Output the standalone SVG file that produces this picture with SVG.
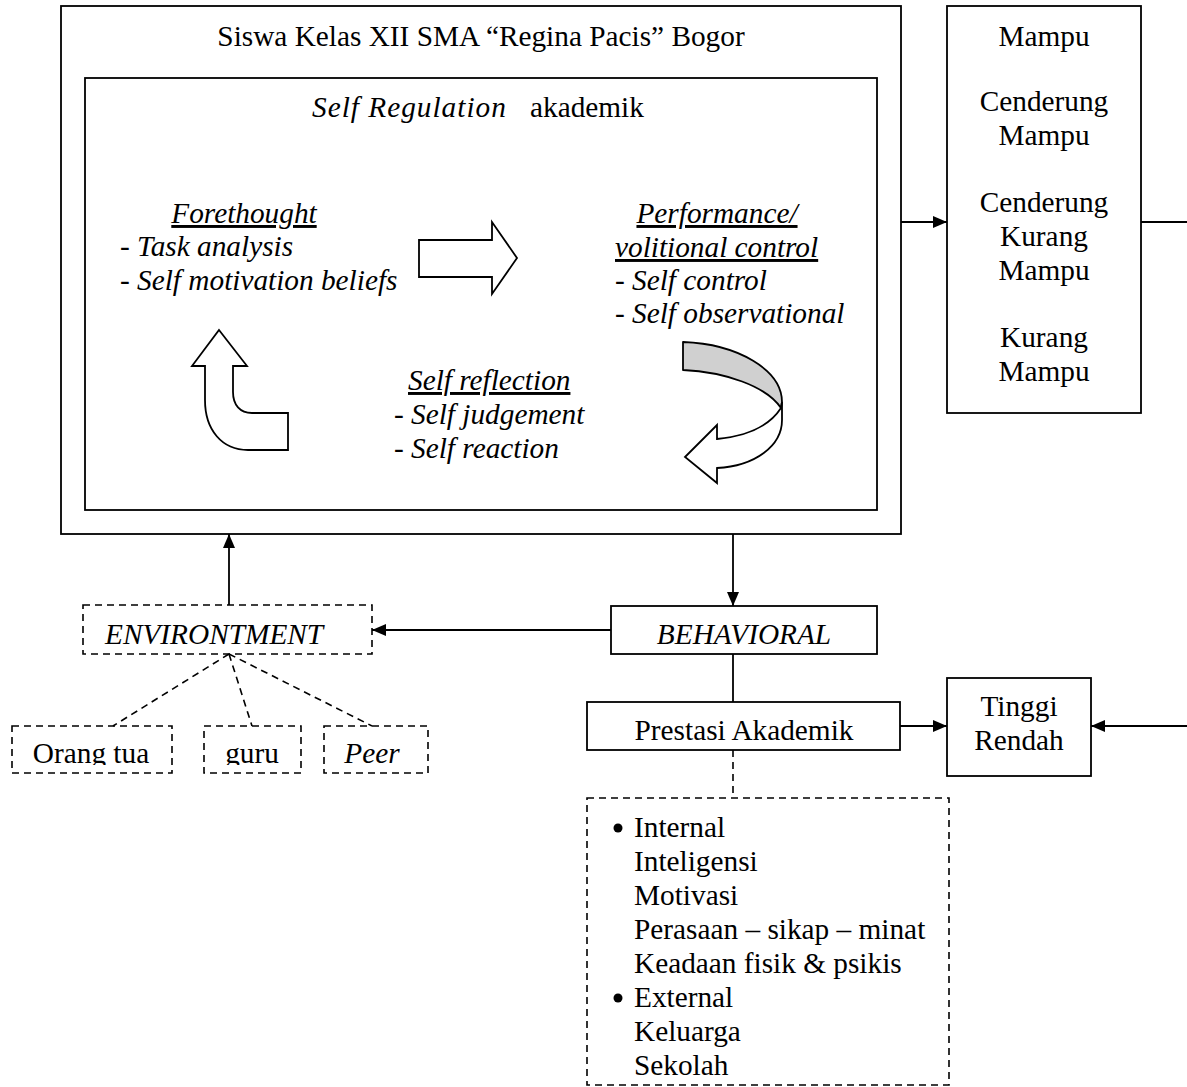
<svg xmlns="http://www.w3.org/2000/svg" width="1187" height="1087" viewBox="0 0 1187 1087">
<style>
text{font-family:"Liberation Serif","Times New Roman",serif;font-size:29.3px;fill:#000}
.i{font-style:italic}
.u{text-decoration:underline}
.c{text-anchor:middle}
.box{fill:#fff;stroke:#000;stroke-width:1.8}
.dash{fill:#fff;stroke:#000;stroke-width:1.6;stroke-dasharray:7 5}
.ln{fill:none;stroke:#000;stroke-width:1.8}
.dl{fill:none;stroke:#000;stroke-width:1.6;stroke-dasharray:7 5}
.blk{fill:#fff;stroke:#000;stroke-width:1.8;stroke-linejoin:miter}
.bul{fill:#000}
</style>
<defs>
<marker id="ah" viewBox="0 0 14 12" refX="14" refY="6" markerWidth="14" markerHeight="12" markerUnits="userSpaceOnUse" orient="auto">
<path d="M0,0 L14,6 L0,12 Z" fill="#000"/>
</marker>
<clipPath id="clipSmall"><rect x="0" y="700" width="450" height="65"/></clipPath>
</defs>

<g id="outer">
<rect class="box" x="61" y="6" width="840" height="528"/>
<text class="c" x="481" y="46">Siswa Kelas XII SMA “Regina Pacis” Bogor</text>
</g>

<g id="inner">
<rect class="box" x="85" y="78" width="792" height="432"/>
<text class="i" x="312" y="117" letter-spacing="1">Self Regulation</text>
<text x="530" y="117">akademik</text>
</g>

<g id="forethought">
<text class="i u c" x="244" y="223">Forethought</text>
<text class="i" x="120" y="256">- Task analysis</text>
<text class="i" x="120" y="290">- Self motivation beliefs</text>
</g>

<g id="performance">
<text class="i u c" x="717" y="223">Performance/</text>
<text class="i u" x="615" y="257">volitional control</text>
<text class="i" x="615" y="290">- Self control</text>
<text class="i" x="615" y="323">- Self observational</text>
</g>

<g id="reflection">
<text class="i u" x="408" y="390">Self reflection</text>
<text class="i" x="394" y="424">- Self judgement</text>
<text class="i" x="394" y="458">- Self reaction</text>
</g>

<g id="arrow-right-block">
<path class="blk" d="M419,240 L492,240 L492,222 L517,258 L492,294 L492,277 L419,277 Z"/>
</g>

<g id="arrow-up-block">
<path class="blk" d="M219,330 L247,366 L233,366 L233,392 C233,405 240,413 252,413 L288,413 L288,450 L248,450 C222,450 205,430 205,400 L205,366 L192,366 Z"/>
</g>

<g id="arrow-curved">
<path d="M683,342 C738,344 782,370 782,402 L781,408 C766,386 725,372 683,370 Z" fill="#d0d0d0" stroke="#000" stroke-width="1.8" stroke-linejoin="round"/>
<path class="blk" d="M781,408 C770,425 748,436 717,439 L717,425 L685,457 L717,483 L717,468 C755,466 782,446 782,420 L782,402 Z"/>
</g>

<g id="result">
<rect class="box" x="947" y="6" width="194" height="407"/>
<text class="c" x="1044" y="46">Mampu</text>
<text class="c" x="1044" y="111">Cenderung</text>
<text class="c" x="1044" y="145">Mampu</text>
<text class="c" x="1044" y="212">Cenderung</text>
<text class="c" x="1044" y="246">Kurang</text>
<text class="c" x="1044" y="280">Mampu</text>
<text class="c" x="1044" y="347">Kurang</text>
<text class="c" x="1044" y="381">Mampu</text>
</g>

<g id="environment">
<rect class="dash" x="83" y="605" width="289" height="49"/>
<text class="i" x="105" y="644">ENVIRONTMENT</text>
</g>

<g id="behavioral">
<rect class="box" x="611" y="606" width="266" height="48"/>
<text class="i c" x="744" y="644">BEHAVIORAL</text>
</g>

<g id="prestasi">
<rect class="box" x="587" y="702" width="313" height="48"/>
<text class="c" x="744" y="740">Prestasi Akademik</text>
</g>

<g id="tinggi">
<rect class="box" x="947" y="678" width="144" height="98"/>
<text class="c" x="1019" y="716">Tinggi</text>
<text class="c" x="1019" y="750">Rendah</text>
</g>

<g id="orangtua">
<rect class="dash" x="12" y="726" width="160" height="47"/>
<text class="c" x="91" y="763" clip-path="url(#clipSmall)">Orang tua</text>
</g>

<g id="guru">
<rect class="dash" x="204" y="726" width="97" height="47"/>
<text class="c" x="252" y="763" clip-path="url(#clipSmall)">guru</text>
</g>

<g id="peer">
<rect class="dash" x="324" y="726" width="104" height="47"/>
<text class="i c" x="372" y="763" clip-path="url(#clipSmall)">Peer</text>
</g>

<g id="factors">
<rect class="dash" x="587" y="798" width="362" height="287"/>
<circle class="bul" cx="618" cy="828" r="4.5"/>
<text x="634" y="837">Internal</text>
<text x="634" y="871">Inteligensi</text>
<text x="634" y="905">Motivasi</text>
<text x="634" y="939">Perasaan – sikap – minat</text>
<text x="634" y="973">Keadaan fisik &amp; psikis</text>
<circle class="bul" cx="618" cy="998" r="4.5"/>
<text x="634" y="1007">External</text>
<text x="634" y="1041">Keluarga</text>
<text x="634" y="1075">Sekolah</text>
</g>

<g id="connectors">
<line class="ln" x1="901" y1="222" x2="947" y2="222" marker-end="url(#ah)"/>
<line class="ln" x1="1141" y1="222" x2="1187" y2="222"/>
<line class="ln" x1="1187" y1="726" x2="1091" y2="726" marker-end="url(#ah)"/>
<line class="ln" x1="733" y1="534" x2="733" y2="606" marker-end="url(#ah)"/>
<line class="ln" x1="611" y1="630" x2="372" y2="630" marker-end="url(#ah)"/>
<line class="ln" x1="229" y1="605" x2="229" y2="534" marker-end="url(#ah)"/>
<line class="ln" x1="733" y1="654" x2="733" y2="702"/>
<line class="ln" x1="900" y1="726" x2="947" y2="726" marker-end="url(#ah)"/>
<line class="dl" x1="733" y1="750" x2="733" y2="798"/>
<line class="dl" x1="229" y1="654" x2="113" y2="726"/>
<line class="dl" x1="229" y1="654" x2="252" y2="726"/>
<line class="dl" x1="229" y1="654" x2="372" y2="726"/>
</g>
</svg>
